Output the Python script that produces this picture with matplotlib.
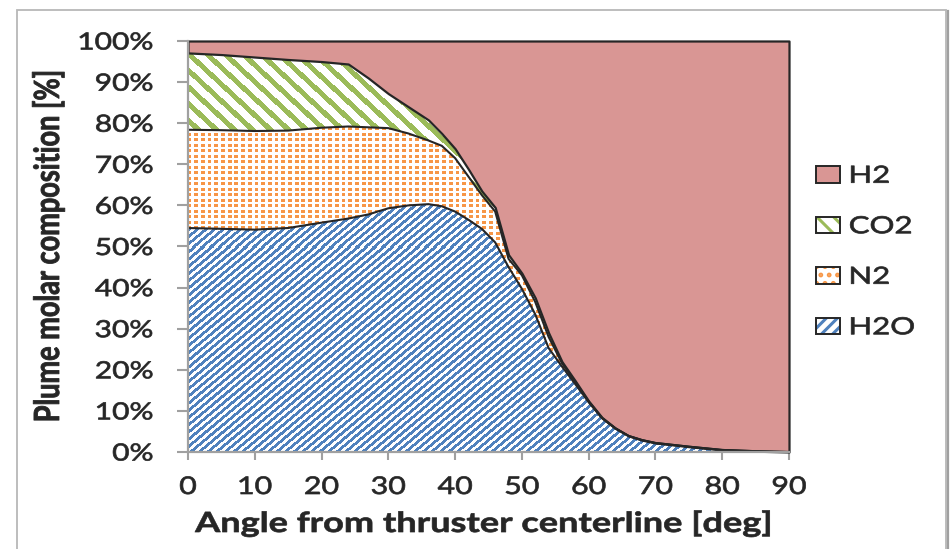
import numpy as np
import matplotlib
matplotlib.use("Agg")
import matplotlib.pyplot as plt
from matplotlib.patches import Patch, Rectangle
from matplotlib.patheffects import AbstractPathEffect
from matplotlib.transforms import Affine2D
from matplotlib.lines import Line2D

# ---------------- data ----------------
angles = [0, 5, 10, 15, 20, 24, 27, 30, 33, 36, 38, 40, 42, 44, 46, 48, 50,
          52, 54, 56, 58, 60, 62, 64, 66, 68, 70, 75, 80, 85, 90]
h2o = [54.5, 54.3, 54.1, 54.5, 55.8, 56.8, 57.8, 59.3, 60.0, 60.3, 59.8, 58.5,
       56.5, 54.3, 51.0, 45.0, 39.7, 33.5, 25.3, 20.8, 16.5, 12.1, 8.2, 5.7,
       3.9, 2.9, 2.2, 1.3, 0.5, 0.2, 0.0]
n2 = [23.9, 24.0, 24.0, 23.7, 23.1, 22.4, 21.2, 19.5, 17.5, 15.5, 14.7, 13.0,
      10.5, 8.2, 7.5, 2.0, 3.3, 3.0, 2.7, 0.8, 0.5, 0.2, 0.1, 0.1,
      0.0, 0.0, 0.0, 0.0, 0.0, 0.0, 0.0]
co2 = [18.7, 18.4, 18.0, 17.3, 16.1, 15.2, 12.0, 8.4, 6.5, 5.0, 3.0, 2.3,
       1.8, 1.0, 1.0, 1.0, 0.5, 1.0, 1.0, 0.4, 0.3, 0.1, 0.1, 0.0,
       0.0, 0.0, 0.0, 0.0, 0.0, 0.0, 0.0]
series_names = ["H2O", "N2", "CO2", "H2"]
y_ticks = [0, 10, 20, 30, 40, 50, 60, 70, 80, 90, 100]
y_tick_labels = [f"{v}%" for v in y_ticks]
x_ticks = [0, 10, 20, 30, 40, 50, 60, 70, 80, 90]
x_label = "Angle from thruster centerline [deg]"
y_label = "Plume molar composition [%]"

# ---------------- styling ----------------
C_H2O = "#4F81BD"
C_N2 = "#F79646"
C_CO2 = "#9BBB59"
C_H2 = "#D99694"
C_LINE = "#262626"
C_TEXT = "#262626"
C_AXIS = "#A0A0A0"

W_PX, H_PX = 950, 549
AX_L, AX_R, AX_T, AX_B = 188, 789, 41, 452


class Stretch(AbstractPathEffect):
    """Widen (and slightly embolden) glyphs: the reference is horizontally stretched."""
    def __init__(self, sx=1.0, sy=1.0, anchor=0.0, stroke=0.0):
        super().__init__()
        self.sx, self.sy, self.anchor, self.stroke = sx, sy, anchor, stroke

    def draw_path(self, renderer, gc, tpath, affine, rgbFace=None):
        ext = tpath.get_extents()
        x0 = ext.x0 + self.anchor * ext.width
        pre = Affine2D().translate(-x0, 0).scale(self.sx, self.sy).translate(x0, 0)
        gc0 = renderer.new_gc()
        gc0.copy_properties(gc)
        if self.stroke > 0 and rgbFace is not None:
            gc0.set_foreground(rgbFace)
            gc0.set_linewidth(self.stroke)
            gc0.set_joinstyle("round")
        else:
            gc0.set_linewidth(0)
        renderer.draw_path(gc0, tpath, pre + affine, rgbFace)
        gc0.restore()


fig = plt.figure(figsize=(W_PX / 100, H_PX / 100), dpi=100)
ax = fig.add_axes([AX_L / W_PX, (H_PX - AX_B) / H_PX,
                   (AX_R - AX_L) / W_PX, (AX_B - AX_T) / H_PX])

x = np.array(angles, float)
top_h2o = np.array(h2o)
top_n2 = top_h2o + np.array(n2)
top_co2 = top_n2 + np.array(co2)

# textures (pixel patterns imitating Excel fill patterns)
bb = ax.get_window_extent()
W, H = int(round(bb.width)), int(round(bb.height))
rr, cc = np.mgrid[0:H, 0:W].astype(float)


def texture(mask, color):
    rgba = np.zeros((H, W, 4))
    rgba[..., :3] = matplotlib.colors.to_rgb(color)
    rgba[..., 3] = mask.astype(float)
    return rgba


tex_h2o = texture(((cc / 8.6 + rr / 7.2) % 1.0) < 0.52, C_H2O)
tex_co2 = texture(((cc / 18.0 - rr / 16.7) % 1.0) < 0.42, C_CO2)
tex_n2 = texture((((cc + 1) % 6.7) < 3.8) & (((rr + 1) % 5.5) < 2.6), C_N2)

layers = [(np.zeros_like(x), top_h2o, tex_h2o),
          (top_h2o, top_n2, tex_n2),
          (top_n2, top_co2, tex_co2)]
for lo, hi, tex in layers:
    poly = ax.fill_between(x, lo, hi, facecolor="white", edgecolor="none",
                           linewidth=0, zorder=1)
    im = ax.imshow(tex, extent=(0, 90, 0, 100), aspect="auto",
                   interpolation="nearest", origin="upper", zorder=1.5)
    im.set_clip_path(poly.get_paths()[0], ax.transData)

ax.fill_between(x, top_co2, 100, facecolor=C_H2, edgecolor=C_LINE,
                linewidth=1.6, zorder=2, clip_on=False)
for yy in (top_h2o, top_n2):
    ax.plot(x, yy, color=C_LINE, linewidth=1.5, zorder=3)

ax.set_xlim(0, 90)
ax.set_ylim(0, 100)
ax.set_facecolor("white")

for s in ("top", "right"):
    ax.spines[s].set_visible(False)
for s in ("left", "bottom"):
    ax.spines[s].set_color(C_AXIS)
    ax.spines[s].set_linewidth(1.6)
    ax.spines[s].set_zorder(5)

ax.set_yticks(y_ticks, y_tick_labels)
ax.set_xticks(x_ticks, [str(v) for v in x_ticks])
ax.tick_params(axis="y", length=8, width=1.5, color=C_AXIS, pad=17,
               labelsize=17, labelcolor=C_TEXT)
ax.tick_params(axis="x", length=6, width=1.5, color=C_AXIS, pad=12,
               labelsize=17.5, labelcolor=C_TEXT)
for t in ax.get_yticklabels():
    t.set_fontfamily("Lato")
    t.set_path_effects([Stretch(sx=1.27, anchor=1.0, stroke=0.5)])
for t in ax.get_xticklabels():
    t.set_fontfamily("Lato")
    t.set_path_effects([Stretch(sx=1.25, anchor=0.5, stroke=0.5)])

# axis titles
fig.text(483.5 / W_PX, 1 - 532 / H_PX, x_label, ha="center", va="baseline",
         fontsize=20, fontweight="bold", family="Lato", color=C_TEXT,
         path_effects=[Stretch(sx=1.3, anchor=0.5, stroke=0.5)])
fig.text(59 / W_PX, 1 - 246 / H_PX, y_label, ha="center", va="baseline",
         rotation=90, rotation_mode="anchor",
         fontsize=19.5, fontweight="bold", family="Lato", color=C_TEXT,
         path_effects=[Stretch(sx=1.0, sy=1.28, anchor=0.5, stroke=0.6)])

# legend
plt.rcParams["hatch.linewidth"] = 2.2
frame = dict(facecolor="none", edgecolor=C_LINE, linewidth=1.4)
handles = [
    Patch(facecolor=C_H2, edgecolor=C_LINE, linewidth=1.4),
    (Patch(facecolor="white", edgecolor=C_CO2, hatch="\\\\", linewidth=0), Patch(**frame)),
    (Patch(facecolor="white", edgecolor=C_N2, hatch="..", linewidth=0), Patch(**frame)),
    (Patch(facecolor="white", edgecolor=C_H2O, hatch="///", linewidth=0), Patch(**frame)),
]
leg = fig.legend(handles, ["H2", "CO2", "N2", "H2O"], loc="center left",
                 bbox_to_anchor=(816 / W_PX, 1 - 252 / H_PX), frameon=False,
                 prop={"family": "Lato", "size": 17}, handlelength=1.0,
                 handleheight=0.72, handletextpad=0.4, labelspacing=1.25,
                 borderpad=0, borderaxespad=0, labelcolor=C_TEXT)
for t in leg.get_texts():
    t.set_path_effects([Stretch(sx=1.32, anchor=0.0, stroke=0.5)])

# chart border
fig.patches.append(Rectangle((17 / W_PX, -0.05), (946 - 17) / W_PX,
                             (H_PX - 10) / H_PX + 0.05, transform=fig.transFigure,
                             fill=False, edgecolor="#B8B8B8", linewidth=1.3))
fig.lines.append(Line2D([947.5 / W_PX] * 2, [0, 1 - 11 / H_PX],
                        transform=fig.transFigure, color="#A0A0A0", linewidth=1.6))

fig.savefig("out.png", dpi=100, facecolor="white")
